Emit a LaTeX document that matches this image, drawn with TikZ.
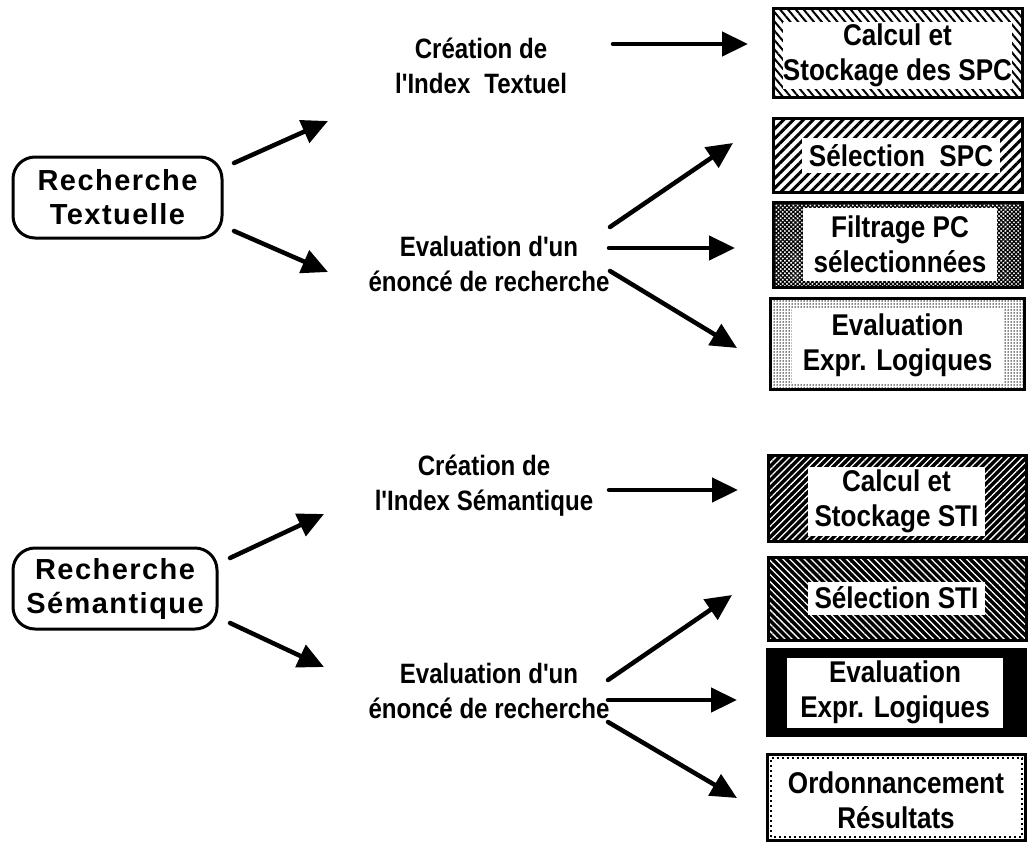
\documentclass[tikz,border=0pt]{standalone}
\usepackage{fontspec}
\setmainfont{Liberation Sans}
\newfontfamily\midfont{Liberation Sans}[FakeStretch=0.86]
\newfontfamily\boxfont{Liberation Sans}[FakeStretch=0.87]
\newfontfamily\leftfont{Liberation Sans}[LetterSpace=5]
\usetikzlibrary{arrows.meta,patterns.meta}

\tikzset{
  lefttext/.style={font=\leftfont\bfseries\fontsize{29}{34}\selectfont, align=center},
  midtext/.style={font=\midfont\bfseries\fontsize{28}{35}\selectfont, align=center},
  boxtext/.style={font=\boxfont\bfseries\fontsize{30}{35}\selectfont, align=center},
  roundbox/.style={lefttext, draw, line width=3pt, rounded corners=22pt, inner sep=0pt},
  outerbox/.style={draw, line width=3pt, inner sep=0pt},
  innerbox/.style={boxtext, fill=white, inner sep=0pt},
  conn/.style={line width=4.5pt, line cap=round, -{Triangle[length=26pt,width=24pt]}},
}

\begin{document}
\begin{tikzpicture}[x=1pt,y=-1pt]
\useasboundingbox (0,0) rectangle (1028,844);

% left entry points
\node[roundbox, minimum width=209pt, minimum height=81pt] (rt) at (117.5,197.5) {Recherche\\Textuelle};
\node[roundbox, minimum width=204pt, minimum height=81pt] (rs) at (115,588.5) {Recherche\\Sémantique};

% middle stages
\node[midtext] (ct) at (481,66) {Création de\\l'Index\enspace Textuel};
\node[midtext] (et) at (489,264) {Evaluation d'un\\énoncé de recherche};
\node[midtext] (cs) at (484,486) {Création de\\l'Index Sémantique};
\node[midtext] (es) at (489,691) {Evaluation d'un\\énoncé de recherche};

% ---- textual search boxes ----
\node[outerbox, pattern={Lines[angle=-50,distance=6pt,line width=2pt]},
      minimum width=249pt, minimum height=89pt] (b1) at (897.5,52.5) {};
\node[innerbox, minimum width=226pt, minimum height=67pt] (b1t) at (897.5,55.5) {Calcul et\\Stockage des SPC};

\node[outerbox, pattern={Lines[angle=45,distance=7pt,line width=3pt]},
      minimum width=249pt, minimum height=74pt] (b2) at (897.5,155) {};
\node[innerbox, minimum width=198pt, minimum height=35pt] (b2t) at (901,155.5) {Sélection~~SPC};

\node[outerbox, pattern={Hatch[angle=45,distance=3pt,line width=1.2pt]},
      minimum width=249pt, minimum height=85pt] (b3) at (897.5,244.5) {};
\node[innerbox, minimum width=194pt, minimum height=73pt] (b3t) at (900,244.5) {Filtrage PC\\sélectionnées};

\node[outerbox, pattern={Dots[distance=3pt,radius=0.75pt]},
      minimum width=254pt, minimum height=91pt] (b4) at (897,343.5) {};
\node[innerbox, minimum width=211pt, minimum height=75pt] (b4t) at (897.5,345) {Evaluation\\Expr. Logiques};

% ---- semantic search boxes ----
\node[outerbox, preaction={fill=black}, pattern={Lines[angle=45,distance=5pt,line width=1.3pt]}, pattern color=white,
      minimum width=258pt, minimum height=86pt] (b5) at (897,498) {};
\node[innerbox, minimum width=177pt, minimum height=69pt] (b5t) at (896.5,501) {Calcul et\\Stockage STI};

\node[outerbox, preaction={fill=black}, pattern={Lines[angle=-45,distance=5pt,line width=1.3pt]}, pattern color=white,
      minimum width=258pt, minimum height=83pt] (b6) at (897,598.5) {};
\node[innerbox, minimum width=177pt, minimum height=33pt] (b6t) at (896.5,598) {Sélection STI};

\node[outerbox, fill=black, minimum width=258pt, minimum height=86pt] (b7) at (896,692) {};
\node[innerbox, minimum width=216pt, minimum height=70pt] (b7t) at (895,692.5) {Evaluation\\Expr. Logiques};

\node[outerbox, fill=white, minimum width=258pt, minimum height=86pt] (b8) at (896,797) {};
\draw[line width=2pt, dash pattern=on 2pt off 3pt] ([shift={(5pt,5pt)}]b8.south west) rectangle ([shift={(-5pt,-5pt)}]b8.north east);
\node[innerbox, minimum width=236pt, minimum height=68pt] (b8t) at (896,800) {Ordonnancement\\Résultats};

% ---- arrow end points ----
\coordinate (a1s) at (234,163);  \coordinate (a1e) at (328,121);
\coordinate (a2s) at (234,231);  \coordinate (a2e) at (328,272);
\coordinate (a3s) at (613,44);   \coordinate (a3e) at (748,44);
\coordinate (a4s) at (610,227);  \coordinate (a4e) at (733,143);
\coordinate (a5s) at (609,248);  \coordinate (a5e) at (735,248);
\coordinate (a6s) at (610,271);  \coordinate (a6e) at (737,348);
\coordinate (a7s) at (230,558);  \coordinate (a7e) at (324,514);
\coordinate (a8s) at (230,623);  \coordinate (a8e) at (324,667);
\coordinate (a9s) at (609,490);  \coordinate (a9e) at (738,490);
\coordinate (a10s) at (608,680); \coordinate (a10e) at (732,595);
\coordinate (a11s) at (608,700); \coordinate (a11e) at (737,700);
\coordinate (a12s) at (608,722); \coordinate (a12e) at (737,798);

\foreach \k in {1,...,12} \draw[conn] (a\k s) -- (a\k e);
\end{tikzpicture}
\end{document}
